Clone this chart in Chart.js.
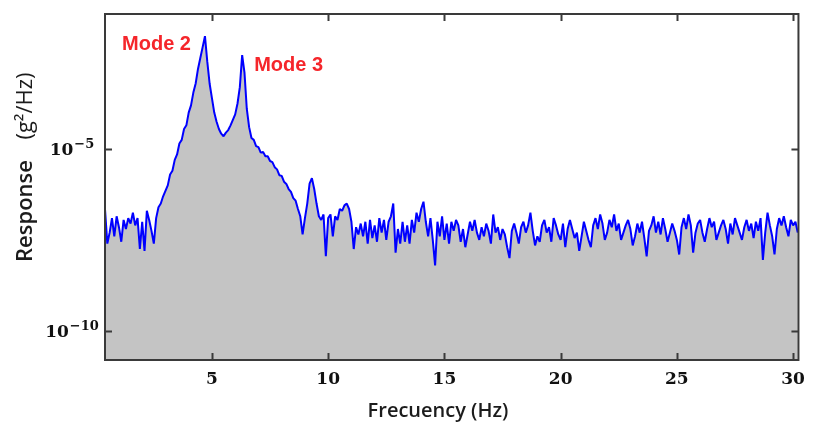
<!DOCTYPE html>
<html>
<head>
<meta charset="utf-8">
<script src="https://cdn.jsdelivr.net/npm/chart.js@4.4.1/dist/chart.umd.min.js"></script>
<style>
  html, body { margin:0; padding:0; background:#fff; }
</style>
</head>
<body>
<canvas id="psd" width="814" height="422"></canvas>
<script>
/* ═══════════════════════════════════════
   Response spectrum (g²/Hz) vs frequency
═══════════════════════════════════════ */

/* ── Sampling: one value every 0.1 Hz from 0.4 Hz ── */
const FREQ_START = 0.4;
const FREQ_STEP  = 0.1;

/* ── Response, stored as log10(g²/Hz) ── */
const LOG_RESPONSE = [
  /* 0.4  */ -6.65,-7.6,-7.3,-6.9,-7.4,-6.85,-7.15,-7.55,-6.95,-7.2,
  /* 1.4  */ -6.9,-7.05,-6.75,-7.1,-6.9,-7.75,-7.0,-7.8,-6.7,-6.95,
  /* 2.4  */ -7.25,-7.6,-6.9,-6.6,-6.5,-6.3,-6.15,-6.0,-5.7,-5.6,
  /* 3.4  */ -5.3,-5.15,-4.85,-4.75,-4.45,-4.35,-4.0,-3.8,-3.45,-3.2,
  /* 4.4  */ -2.8,-2.5,-2.2,-1.9,-2.6,-3.2,-3.6,-4.0,-4.25,-4.45,
  /* 5.4  */ -4.58,-4.65,-4.55,-4.48,-4.35,-4.2,-4.05,-3.75,-3.3,-2.42,
  /* 6.4  */ -2.9,-3.9,-4.4,-4.7,-4.75,-4.92,-4.95,-5.1,-5.08,-5.2,
  /* 7.4  */ -5.2,-5.33,-5.36,-5.5,-5.56,-5.72,-5.74,-5.9,-5.96,-6.1,
  /* 8.4  */ -6.18,-6.35,-6.42,-6.65,-6.85,-7.35,-6.9,-6.5,-5.95,-5.8,
  /* 9.4  */ -6.1,-6.5,-6.85,-6.95,-6.8,-7.95,-6.9,-6.8,-7.4,-6.85,
  /* 10.4 */ -6.95,-6.65,-6.7,-6.55,-6.5,-6.65,-7.0,-7.75,-7.15,-7.35,
  /* 11.4 */ -7.05,-7.4,-7.0,-7.6,-6.95,-7.45,-7.1,-7.55,-6.9,-7.3,
  /* 12.4 */ -6.95,-7.5,-7.0,-6.85,-6.5,-7.85,-7.2,-7.6,-7.0,-7.55,
  /* 13.4 */ -7.1,-7.6,-6.95,-7.3,-6.75,-7.0,-6.65,-6.45,-7.0,-7.4,
  /* 14.4 */ -6.9,-7.5,-8.2,-7.0,-7.4,-6.85,-7.5,-7.05,-7.6,-7.0,
  /* 15.4 */ -7.25,-6.95,-7.1,-7.55,-7.2,-7.7,-7.35,-7.0,-7.25,-6.95,
  /* 16.4 */ -7.3,-7.5,-7.15,-7.4,-7.05,-7.25,-7.6,-6.8,-7.3,-7.15,
  /* 17.4 */ -7.5,-7.2,-7.35,-7.7,-8.0,-7.25,-7.05,-7.3,-7.6,-7.15,
  /* 18.4 */ -7.0,-7.3,-7.1,-6.75,-7.25,-7.65,-7.4,-7.55,-7.1,-6.95,
  /* 19.4 */ -7.3,-7.15,-7.55,-6.9,-7.1,-7.35,-7.5,-7.05,-7.7,-7.2,
  /* 20.4 */ -6.95,-7.2,-7.45,-7.3,-7.8,-7.4,-7.0,-7.25,-7.5,-7.7,
  /* 21.4 */ -7.1,-6.9,-7.2,-6.8,-7.05,-7.5,-7.3,-6.95,-7.15,-6.8,
  /* 22.4 */ -7.25,-7.05,-7.5,-7.3,-7.1,-6.95,-7.2,-7.65,-7.4,-7.05,
  /* 23.4 */ -7.3,-7.0,-7.45,-7.95,-7.25,-7.1,-6.85,-7.3,-7.0,-7.35,
  /* 24.4 */ -6.9,-7.2,-7.55,-7.3,-7.05,-7.25,-7.5,-7.9,-7.15,-6.9,
  /* 25.4 */ -7.2,-6.8,-7.1,-7.85,-7.3,-7.05,-6.95,-7.3,-7.55,-7.2,
  /* 26.4 */ -6.9,-7.15,-7.0,-7.5,-7.3,-7.1,-6.95,-7.2,-7.6,-7.05,
  /* 27.4 */ -7.35,-6.9,-7.1,-7.3,-7.5,-7.15,-6.95,-7.25,-7.05,-7.45,
  /* 28.4 */ -7.0,-7.25,-6.9,-8.05,-7.3,-6.75,-7.1,-7.4,-7.9,-7.2,
  /* 29.4 */ -6.9,-7.1,-6.85,-7.15,-7.4,-6.95,-7.1,-7.0,-7.3
];

/* ── Axes ── */
const X_TICKS       = [5, 10, 15, 20, 25, 30];
const Y_TICKS       = [1e-10, 1e-5];
const Y_TICK_BASE   = '10';
const Y_TICK_EXP    = ['−10', '−5'];
const X_RANGE       = [0.4, 30.23];
const Y_RANGE_LOG10 = [-10.8, -1.29];

/* ── Peak annotations: label + search window in Hz ── */
const MODE_LABELS  = ['Mode 2', 'Mode 3'];
const MODE_WINDOWS = [[4.0, 5.4], [5.6, 7.0]];

const points = LOG_RESPONSE.map((v, i) => ({
  x: +(FREQ_START + i * FREQ_STEP).toFixed(2),
  y: Math.pow(10, v)
}));

const TICK_FONT = { family:'DejaVu Serif', size:17, weight:'bold' };

/* ── Frame, inward ticks, y labels with exponents, titles, mode labels ── */
const framePlugin = {
  id: 'frame',
  afterDraw(chart) {
    const { ctx, chartArea: a, scales: { x, y } } = chart;
    ctx.save();
    ctx.strokeStyle = '#3a3a3a';
    ctx.lineWidth = 2;
    ctx.strokeRect(a.left, a.top, a.right - a.left, a.bottom - a.top);

    ctx.beginPath();
    X_TICKS.forEach(v => {
      const px = Math.round(x.getPixelForValue(v)) + 0.5;
      ctx.moveTo(px, a.bottom); ctx.lineTo(px, a.bottom - 7);
      ctx.moveTo(px, a.top);    ctx.lineTo(px, a.top + 7);
    });
    Y_TICKS.forEach(v => {
      const py = Math.round(y.getPixelForValue(v)) + 0.5;
      ctx.moveTo(a.left, py);  ctx.lineTo(a.left + 7, py);
      ctx.moveTo(a.right, py); ctx.lineTo(a.right - 7, py);
    });
    ctx.stroke();

    // y tick labels: 10 with a raised exponent, centred in the label column
    ctx.fillStyle = '#111';
    ctx.textAlign = 'left';
    ctx.textBaseline = 'alphabetic';
    Y_TICKS.forEach((v, i) => {
      const py = y.getPixelForValue(v);
      ctx.font = 'bold 17px "DejaVu Serif"';
      const wb = ctx.measureText(Y_TICK_BASE).width;
      ctx.font = 'bold 13px "DejaVu Serif"';
      const we = ctx.measureText(Y_TICK_EXP[i]).width;
      const x0 = 72 - (wb + we + 1) / 2;
      ctx.font = 'bold 17px "DejaVu Serif"';
      ctx.fillText(Y_TICK_BASE, x0, py + 6.5);
      ctx.font = 'bold 13px "DejaVu Serif"';
      ctx.fillText(Y_TICK_EXP[i], x0 + wb + 1, py - 1);
    });

    // axis titles
    ctx.fillStyle = '#1c1c1c';
    ctx.textAlign = 'center';
    ctx.textBaseline = 'middle';
    ctx.font = '600 20px "Open Sans"';
    ctx.fillText('Frecuency (Hz)', 438, 411);
    ctx.translate(26, 0);
    ctx.rotate(-Math.PI / 2);
    ctx.font = '600 22px "Open Sans"';
    ctx.fillText('Response', -211, 0);
    ctx.font = '22px "Open Sans"';
    ctx.fillText('(g²/Hz)', -106, 0);
    ctx.restore();

    // mode labels next to their peaks
    ctx.save();
    ctx.fillStyle = '#f5262b';
    ctx.font = 'bold 20px "Liberation Sans"';
    ctx.textBaseline = 'alphabetic';
    MODE_LABELS.forEach((lbl, k) => {
      const [lo, hi] = MODE_WINDOWS[k];
      let best = null;
      points.forEach(p => { if (p.x >= lo && p.x <= hi && (!best || p.y > best.y)) best = p; });
      const px = x.getPixelForValue(best.x);
      const py = y.getPixelForValue(best.y);
      if (k === 0) { ctx.textAlign = 'right'; ctx.fillText(lbl, px - 14, py + 14); }
      else         { ctx.textAlign = 'left';  ctx.fillText(lbl, px + 12, py + 16); }
    });
    ctx.restore();
  }
};

new Chart(document.getElementById('psd'), {
  type: 'line',
  data: {
    datasets: [{
      data: points,
      borderColor: '#0000ff',
      borderWidth: 2,
      borderJoinStyle: 'bevel',
      backgroundColor: '#c4c4c4',
      fill: 'start',
      tension: 0,
      pointRadius: 0
    }]
  },
  options: {
    responsive: false,
    animation: false,
    devicePixelRatio: 1,
    layout: { padding: { top: 14, right: 8, left: 0, bottom: 0 } },
    plugins: { legend: { display: false }, tooltip: { enabled: false } },
    scales: {
      x: {
        type: 'linear',
        min: X_RANGE[0], max: X_RANGE[1],
        grid: { display: false, drawTicks: false },
        border: { display: false },
        afterBuildTicks: s => { s.ticks = X_TICKS.map(v => ({ value: v })); },
        afterFit: s => { s.height = 62; },
        ticks: { color: '#111', font: TICK_FONT, padding: 9, maxRotation: 0, callback: v => String(v) }
      },
      y: {
        type: 'logarithmic',
        min: Math.pow(10, Y_RANGE_LOG10[0]), max: Math.pow(10, Y_RANGE_LOG10[1]),
        grid: { display: false, drawTicks: false },
        border: { display: false },
        afterBuildTicks: s => { s.ticks = Y_TICKS.map(v => ({ value: v })); },
        afterFit: s => { s.width = 105; },
        ticks: { display: false }
      }
    }
  },
  plugins: [framePlugin]
});
</script>
</body>
</html>
